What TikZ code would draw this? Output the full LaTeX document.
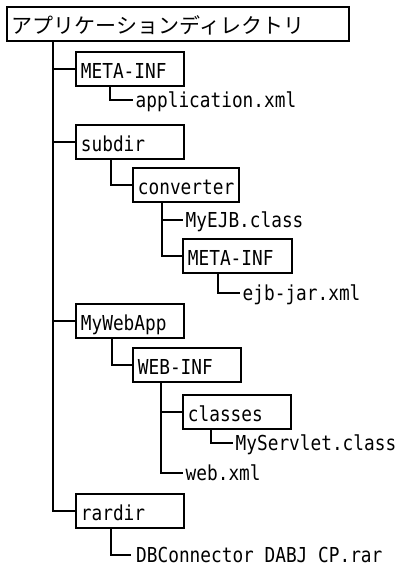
\documentclass[tikz,border=0pt]{standalone}
\usepackage{fontspec}
\setmainfont{DejaVu Sans Mono}[FakeStretch=0.863]
\newfontfamily\jpfont{Noto Sans CJK JP}
\begin{document}
\begin{tikzpicture}[x=1pt,y=-1pt,
  font=\fontsize{20.6}{24}\selectfont,
  box/.style={draw, line width=1.8pt, anchor=north west, inner xsep=5pt, inner ysep=0pt,
    minimum height=34pt, text height=20pt, text depth=1pt, text width=98pt, align=left},
  file/.style={anchor=west, inner xsep=2.5pt, inner ysep=0pt, text height=15pt, text depth=0pt},
  link/.style={line width=1.8pt}]
\useasboundingbox (0,0) rectangle (398,564);
% boxes
\node[box, text width=332pt, font=\jpfont\fontsize{21}{24}\selectfont] (root) at (6,6) {アプリケーションディレクトリ};
\node[box] (meta) at (75,51) {META-INF};
\node[box] (subdir) at (75,124) {subdir};
\node[box, text width=96pt] (conv) at (132,167) {converter};
\node[box, text width=99pt] (meta2) at (182,238) {META-INF};
\node[box] (webapp) at (75,303) {MyWebApp};
\node[box] (webinf) at (132,347) {WEB-INF};
\node[box] (classes) at (182,394) {classes};
\node[box] (rardir) at (75,493) {rardir};
% files
\node[file] (appxml) at (133,100) {application.xml};
\node[file] (myejb) at (183,220) {MyEJB.class};
\node[file] (ejbjar) at (240,293) {ejb-jar.xml};
\node[file] (servlet) at (233,443) {MyServlet.class};
\node[file] (webxml) at (183,473) {web.xml};
\node[file, inner xsep=5pt] (dbrar) at (131,555) {DBConnector\_DABJ\_CP.rar};
% trunk
\coordinate (trunk) at ([xshift=47pt]root.south west);
\draw[link] (trunk) |- (rardir.west);
\draw[link] (meta.west -| trunk) -- (meta.west);
\draw[link] (subdir.west -| trunk) -- (subdir.west);
\draw[link] (webapp.west -| trunk) -- (webapp.west);
% META-INF
\draw[link] ([xshift=35pt]meta.south west) |- (appxml.west);
% subdir
\draw[link] ([xshift=36pt]subdir.south west) |- (conv.west);
\coordinate (ct) at ([xshift=30pt]conv.south west);
\draw[link] (ct) |- (meta2.west);
\draw[link] (myejb.west -| ct) -- (myejb.west);
\draw[link] ([xshift=36pt]meta2.south west) |- (ejbjar.west);
% MyWebApp
\draw[link] ([xshift=37pt]webapp.south west) |- (webinf.west);
\coordinate (wt) at ([xshift=29pt]webinf.south west);
\draw[link] (wt) |- (webxml.west);
\draw[link] (classes.west -| wt) -- (classes.west);
\draw[link] ([xshift=29pt]classes.south west) |- (servlet.west);
% rardir
\draw[link] ([xshift=36pt]rardir.south west) |- (dbrar.west);
\end{tikzpicture}
\end{document}
